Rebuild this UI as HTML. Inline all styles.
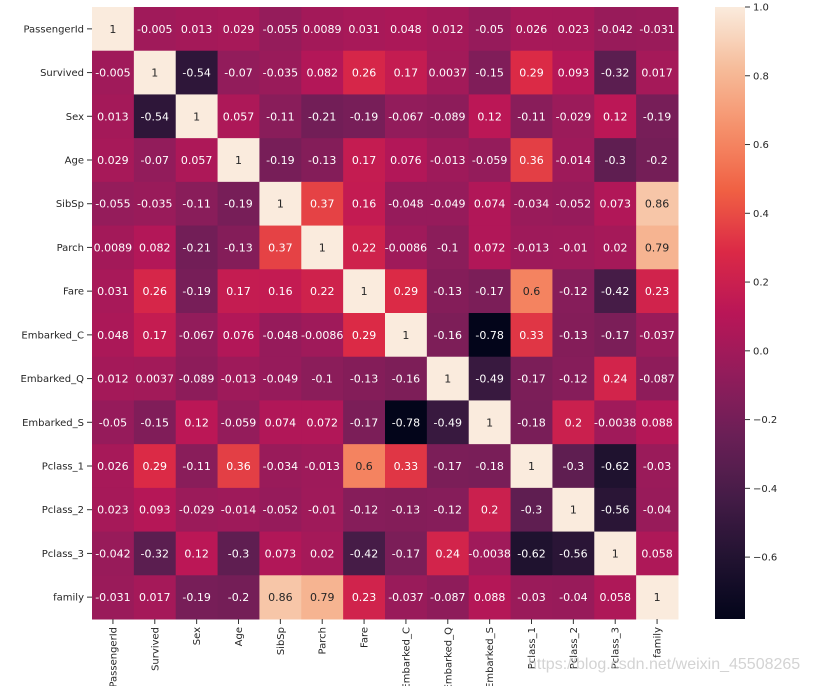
<!DOCTYPE html>
<html><head><meta charset="utf-8"><style>
body{margin:0;background:#fff;}
svg text{font-family:"DejaVu Sans","Liberation Sans",sans-serif;}
</style></head><body>
<svg id="c" width="815" height="686"></svg>
<div style="position:absolute;left:528px;top:656px;font:16px 'Liberation Sans',sans-serif;color:rgba(200,200,200,0.8)">https://blog.csdn.net/weixin_45508265</div>
<script>
const labels=["PassengerId","Survived","Sex","Age","SibSp","Parch","Fare","Embarked_C","Embarked_Q","Embarked_S","Pclass_1","Pclass_2","Pclass_3","family"];
const values=[
[1,-0.005,0.013,0.029,-0.055,0.0089,0.031,0.048,0.012,-0.05,0.026,0.023,-0.042,-0.031],
[-0.005,1,-0.54,-0.07,-0.035,0.082,0.26,0.17,0.0037,-0.15,0.29,0.093,-0.32,0.017],
[0.013,-0.54,1,0.057,-0.11,-0.21,-0.19,-0.067,-0.089,0.12,-0.11,-0.029,0.12,-0.19],
[0.029,-0.07,0.057,1,-0.19,-0.13,0.17,0.076,-0.013,-0.059,0.36,-0.014,-0.3,-0.2],
[-0.055,-0.035,-0.11,-0.19,1,0.37,0.16,-0.048,-0.049,0.074,-0.034,-0.052,0.073,0.86],
[0.0089,0.082,-0.21,-0.13,0.37,1,0.22,-0.0086,-0.1,0.072,-0.013,-0.01,0.02,0.79],
[0.031,0.26,-0.19,0.17,0.16,0.22,1,0.29,-0.13,-0.17,0.6,-0.12,-0.42,0.23],
[0.048,0.17,-0.067,0.076,-0.048,-0.0086,0.29,1,-0.16,-0.78,0.33,-0.13,-0.17,-0.037],
[0.012,0.0037,-0.089,-0.013,-0.049,-0.1,-0.13,-0.16,1,-0.49,-0.17,-0.12,0.24,-0.087],
[-0.05,-0.15,0.12,-0.059,0.074,0.072,-0.17,-0.78,-0.49,1,-0.18,0.2,-0.0038,0.088],
[0.026,0.29,-0.11,0.36,-0.034,-0.013,0.6,0.33,-0.17,-0.18,1,-0.3,-0.62,-0.03],
[0.023,0.093,-0.029,-0.014,-0.052,-0.01,-0.12,-0.13,-0.12,0.2,-0.3,1,-0.56,-0.04],
[-0.042,-0.32,0.12,-0.3,0.073,0.02,-0.42,-0.17,0.24,-0.0038,-0.62,-0.56,1,0.058],
[-0.031,0.017,-0.19,-0.2,0.86,0.79,0.23,-0.037,-0.087,0.088,-0.03,-0.04,0.058,1]];
const cbTicks=[-0.6,-0.4,-0.2,0.0,0.2,0.4,0.6,0.8,1.0];
const vmin=-0.78,vmax=1;
const stops=[[3,5,26],[34,19,49],[69,28,71],[106,31,86],[146,28,91],[185,22,87],[219,41,70],[240,96,67],[245,143,106],[246,188,154],[250,235,221]];
function cmap(v){let t=Math.max(0,Math.min(1,(v-vmin)/(vmax-vmin)))*10;let i=Math.min(9,Math.floor(t)),f=t-i;const a=stops[i],b=stops[i+1];return [0,1,2].map(k=>a[k]+(b[k]-a[k])*f);}
const L=92,T=7,W=586,H=612,n=labels.length,cw=W/n,ch=H/n;
const xs=i=>L+i*cw, ys=i=>T+i*ch;
const svg=document.getElementById('c');const NS='http://www.w3.org/2000/svg';
function mk(t,a,p){const e=document.createElementNS(NS,t);for(const k in a)e.setAttribute(k,a[k]);(p||svg).appendChild(e);return e;}
for(let r=0;r<n;r++)for(let c=0;c<n;c++){const v=values[r][c];const col=cmap(v);
const rc=mk('rect',{x:xs(c),y:ys(r),width:cw+0.5,height:ch+0.5,fill:`rgb(${col.map(Math.round)})`});


const lum=(0.2126*col[0]+0.7152*col[1]+0.0722*col[2])/255;
const tx=mk('text',{x:xs(c)+cw/2,y:ys(r)+ch/2+4,'text-anchor':'middle','font-size':'11',fill:lum>0.4?'#262626':'#fff'});tx.textContent=String(v);

}
for(let i=0;i<n;i++){
const y=ys(i)+ch/2;mk('line',{x1:L-5,x2:L,y1:y,y2:y,stroke:'#333'});
const t=mk('text',{x:L-8,y:y+3.5,'text-anchor':'end','font-size':'10',fill:'#262626'});t.textContent=labels[i];


const x=xs(i)+cw/2;mk('line',{x1:x,x2:x,y1:T+H,y2:T+H+5,stroke:'#333'});
const u=mk('text',{x:0,y:0,'text-anchor':'end','font-size':'10',fill:'#262626',transform:`translate(${x+3.5},${T+H+8}) rotate(-90)`});u.textContent=labels[i];

}
// colorbar
const CX=715,CW=30;const cy=v=>T+(vmax-v)/(vmax-vmin)*H;
const defs=mk('defs',{});const g=mk('linearGradient',{id:'g',x1:0,y1:0,x2:0,y2:1},defs);
for(let k=0;k<=20;k++){const v=vmax-(vmax-vmin)*k/20;const col=cmap(v);mk('stop',{offset:k/20,'stop-color':`rgb(${col.map(Math.round)})`},g);}
const cb=mk('rect',{x:CX,y:T,width:CW,height:H,fill:'url(#g)'});


cbTicks.forEach(v=>{const y=cy(v);mk('line',{x1:CX+CW,x2:CX+CW+5,y1:y,y2:y,stroke:'#333'});
const t=mk('text',{x:CX+CW+8,y:y+3.5,'font-size':'10',fill:'#262626'});t.textContent=(v<0?'−':'')+Math.abs(v).toFixed(1);

});
</script>
</body></html>
